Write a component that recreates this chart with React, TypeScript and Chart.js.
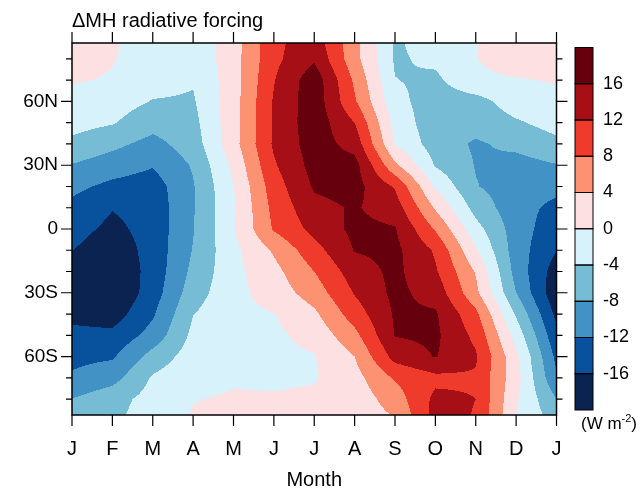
import React, { useEffect, useRef } from 'react';
import { Chart, registerables } from 'chart.js';

Chart.register(...registerables);

// ---------- data ----------
const monthLabels = ['J', 'F', 'M', 'A', 'M', 'J', 'J', 'A', 'S', 'O', 'N', 'D', 'J'];
const latitudes = [87.5, 80, 70, 60, 50, 40, 30, 20, 10, 0, -10, -20, -30, -40, -50, -60, -70, -80, -87.5];
const latTickValues = [60, 30, 0, -30, -60];
const latTickLabels = ['60N', '30N', '0', '30S', '60S'];
const latMinorTicks = [80, 70, 50, 40, 20, 10, -10, -20, -40, -50, -70, -80];
const contourLevels = [-16, -12, -8, -4, 0, 4, 8, 12, 16];
const levelLabels = ['16', '12', '8', '4', '0', '-4', '-8', '-12', '-16'];
const fillColors = ['#0a2351', '#08519c', '#4292c6', '#76bcd4', '#d8f2fb', '#fde0e2', '#fc9272', '#ef3b2c', '#a50f15', '#67000d'];

// radiative forcing (W m-2) per month, rows follow `latitudes`
const forcingJan = [1.8, 1.5, 0.3, -1.2, -2.5, -5, -8.2, -11, -13, -14.5, -15.9, -18, -19, -17, -15, -13, -11.5, -7.9, -6];
const forcingFeb = [0.3, 0.2, -0.3, -2.2, -3.7, -7, -10, -13, -15.8, -17, -18.5, -19.5, -20, -18, -15, -12.5, -9.5, -5.5, -5];
const forcingMar = [-1.2, -1.5, -2.5, -4.2, -6.5, -9.3, -11.7, -14, -14.5, -14.5, -14.5, -14.5, -14, -12.5, -10.5, -6.5, -3.5, -2.5, -2];
const forcingApr = [-2.5, -3, -3.7, -4.4, -5.2, -6, -7.6, -8.3, -8.3, -8.2, -7.8, -7, -5.8, -4.1, -3, -2, -1, -0.1, 0.2];
const forcingMay = [2.2, 2.3, 2.2, 2.3, 2.5, 2.5, 1, -0.1, -0.5, -0.3, -1, -1.2, -1.2, -1, -0.8, -0.6, -0.3, 0.3, 0.5];
const forcingJun = [11, 11, 11.8, 12.4, 12.5, 12.6, 11.5, 10.1, 9.2, 8.4, 4.5, 2.8, 1.8, -0.1, -0.8, -1, -0.7, 0.4, 0.8];
const forcingJul = [14.3, 15.5, 18.5, 18.5, 18.5, 18, 17.5, 16.5, 14.8, 13.2, 10.5, 8, 5.9, 3.2, 1.3, -0.2, -0.3, 0.7, 1.2];
const forcingAug = [5.3, 5.4, 7.3, 8.5, 12, 14.5, 17.5, 17.5, 16.4, 17, 16.2, 14, 12.3, 10, 6.8, 4, 2.5, 1.5, 1.5];
const forcingSep = [-4.5, -4.5, -3.9, -2.8, -1.4, -0.1, 4.8, 11.6, 14, 16.3, 17, 17, 17, 16.5, 16.2, 13.5, 8.5, 6, 4.3];
const forcingOct = [-2.4, -3.2, -4.8, -6, -6.5, -6, -4.3, -0.5, 3.5, 7.6, 11.5, 12.5, 14.5, 16.5, 16.8, 16.2, 11, 13, 13.5];
const forcingNov = [-0.1, -0.1, -0.8, -5.5, -6.5, -8.5, -8.2, -7.8, -5.5, -2.5, 0.5, 3.7, 5, 9, 11, 12.5, 11.5, 12, 11.8];
const forcingDec = [2, 2, -0.3, -2, -4.5, -7, -9.5, -10, -10.5, -10, -10, -9.5, -8, -4.5, -1.5, 1, 1.5, 0.5, 0];

// the annual cycle closes on January again
const monthlyColumns = [
  forcingJan, forcingFeb, forcingMar, forcingApr, forcingMay, forcingJun,
  forcingJul, forcingAug, forcingSep, forcingOct, forcingNov, forcingDec, forcingJan,
];

const FONT = 'Liberation Sans, Arial, Helvetica, sans-serif';

function hexToRgb(h: string) {
  const n = parseInt(h.slice(1), 16);
  return [(n >> 16) & 255, (n >> 8) & 255, n & 255];
}

function sampleField(m: number, lat: number) {
  const c = Math.min(Math.max(m, 0), monthlyColumns.length - 1);
  const ci = Math.min(Math.floor(c), monthlyColumns.length - 2);
  const fx = c - ci;
  let r = 0;
  while (r < latitudes.length - 2 && lat < latitudes[r + 1]) r++;
  let fy = (latitudes[r] - lat) / (latitudes[r] - latitudes[r + 1]);
  fy = Math.min(Math.max(fy, 0), 1);
  const a = monthlyColumns[ci][r];
  const b = monthlyColumns[ci + 1][r];
  const c2 = monthlyColumns[ci][r + 1];
  const d = monthlyColumns[ci + 1][r + 1];
  return (a * (1 - fx) + b * fx) * (1 - fy) + (c2 * (1 - fx) + d * fx) * fy;
}

const contourPlugin = {
  id: 'contourFill',
  beforeDatasetsDraw(chart: any) {
    const { ctx, chartArea: area, scales } = chart;
    const xs = scales.x;
    const ys = scales.y;
    const w = Math.round(area.right - area.left);
    const h = Math.round(area.bottom - area.top);
    const off = document.createElement('canvas');
    off.width = w;
    off.height = h;
    const octx = off.getContext('2d')!;
    const img = octx.createImageData(w, h);
    const rgb = fillColors.map(hexToRgb);
    for (let j = 0; j < h; j++) {
      const lat = ys.getValueForPixel(area.top + j + 0.5);
      for (let i = 0; i < w; i++) {
        const m = xs.getValueForPixel(area.left + i + 0.5);
        const v = sampleField(m, lat);
        let k = 0;
        while (k < contourLevels.length && v >= contourLevels[k]) k++;
        const col = rgb[k];
        const p = (j * w + i) * 4;
        img.data[p] = col[0];
        img.data[p + 1] = col[1];
        img.data[p + 2] = col[2];
        img.data[p + 3] = 255;
      }
    }
    octx.putImageData(img, 0, 0);
    ctx.drawImage(off, area.left, area.top);
  },
};

const framePlugin = {
  id: 'frameAndKey',
  afterDraw(chart: any) {
    const { ctx, chartArea: area, scales } = chart;
    const xs = scales.x;
    const ys = scales.y;
    ctx.save();
    ctx.strokeStyle = '#000';
    ctx.lineWidth = 1.5;
    ctx.strokeRect(area.left, area.top, area.right - area.left, area.bottom - area.top);

    ctx.lineWidth = 1.2;
    ctx.beginPath();
    monthLabels.forEach((_, i) => {
      const px = xs.getPixelForValue(i);
      ctx.moveTo(px, area.bottom);
      ctx.lineTo(px, area.bottom + 11);
      ctx.moveTo(px, area.top);
      ctx.lineTo(px, area.top - 11);
    });
    latTickValues.forEach((v) => {
      const py = ys.getPixelForValue(v);
      ctx.moveTo(area.left, py);
      ctx.lineTo(area.left - 11, py);
      ctx.moveTo(area.right, py);
      ctx.lineTo(area.right + 11, py);
    });
    latMinorTicks.forEach((v) => {
      const py = ys.getPixelForValue(v);
      ctx.moveTo(area.left, py);
      ctx.lineTo(area.left - 6, py);
      ctx.moveTo(area.right, py);
      ctx.lineTo(area.right + 6, py);
    });
    ctx.stroke();

    // title
    ctx.fillStyle = '#000';
    ctx.font = `20px ${FONT}`;
    ctx.textAlign = 'left';
    ctx.textBaseline = 'alphabetic';
    ctx.fillText('\u0394MH radiative forcing', area.left, 26.5);

    // colour key
    const kx = 575;
    const kw = 18;
    const kTop = 47.5;
    const kBot = 410;
    const n = fillColors.length;
    const bh = (kBot - kTop) / n;
    for (let i = 0; i < n; i++) {
      ctx.fillStyle = fillColors[n - 1 - i];
      ctx.fillRect(kx, kTop + i * bh, kw, bh);
    }
    ctx.strokeStyle = '#000';
    ctx.lineWidth = 1;
    for (let i = 0; i < n; i++) {
      ctx.strokeRect(kx, kTop + i * bh, kw, bh);
    }
    ctx.fillStyle = '#000';
    ctx.font = `18px ${FONT}`;
    ctx.textBaseline = 'middle';
    levelLabels.forEach((t, i) => {
      ctx.fillText(t, kx + kw + 10, kTop + (i + 1) * bh);
    });
    // unit
    ctx.textBaseline = 'alphabetic';
    ctx.font = `17px ${FONT}`;
    let ux = 581;
    const uy = 429;
    ctx.fillText('(W m', ux, uy);
    ux += ctx.measureText('(W m').width;
    ctx.font = `11px ${FONT}`;
    ctx.fillText('-2', ux, uy - 7);
    ux += ctx.measureText('-2').width;
    ctx.font = `17px ${FONT}`;
    ctx.fillText(')', ux, uy);
    ctx.restore();
  },
};

export default function App() {
  const ref = useRef<HTMLCanvasElement | null>(null);
  useEffect(() => {
    const canvas = ref.current;
    if (!canvas) return;
    const chart = new Chart(canvas, {
      type: 'scatter',
      data: { datasets: [{ data: [], pointRadius: 0 }] },
      options: {
        responsive: false,
        animation: false,
        devicePixelRatio: 1,
        layout: { padding: { top: 43, right: 84.5, bottom: 0, left: 0 } },
        plugins: {
          legend: { display: false },
          tooltip: { enabled: false },
          title: { display: false },
        },
        scales: {
          x: {
            type: 'linear',
            min: 0,
            max: 12,
            afterBuildTicks: (s: any) => {
              s.ticks = monthLabels.map((_, i) => ({ value: i }));
            },
            afterFit: (s: any) => {
              s.height = 80;
            },
            ticks: {
              autoSkip: false,
              maxRotation: 0,
              padding: 22,
              color: '#000',
              font: { family: FONT, size: 20 },
              callback: (_v: any, i: number) => monthLabels[i],
            },
            grid: { display: false, drawTicks: false },
            border: { display: false },
            title: {
              display: true,
              text: 'Month',
              color: '#000',
              font: { family: FONT, size: 20 },
              padding: { top: 0, bottom: 3 },
            },
          },
          y: {
            type: 'linear',
            min: -87.5,
            max: 87.5,
            afterBuildTicks: (s: any) => {
              s.ticks = latTickValues.map((v) => ({ value: v }));
            },
            afterFit: (s: any) => {
              s.width = 72;
            },
            ticks: {
              autoSkip: false,
              padding: 14,
              color: '#000',
              font: { family: FONT, size: 19 },
              callback: (_v: any, i: number) => latTickLabels[i],
            },
            grid: { display: false, drawTicks: false },
            border: { display: false },
          },
        },
      },
      plugins: [contourPlugin, framePlugin],
    } as any);
    return () => chart.destroy();
  }, []);
  return (
    <div style={{ position: 'fixed', left: 0, top: 0, width: 641, height: 495, background: '#fff' }}>
      <canvas ref={ref} width={641} height={495} style={{ display: 'block' }} />
    </div>
  );
}
